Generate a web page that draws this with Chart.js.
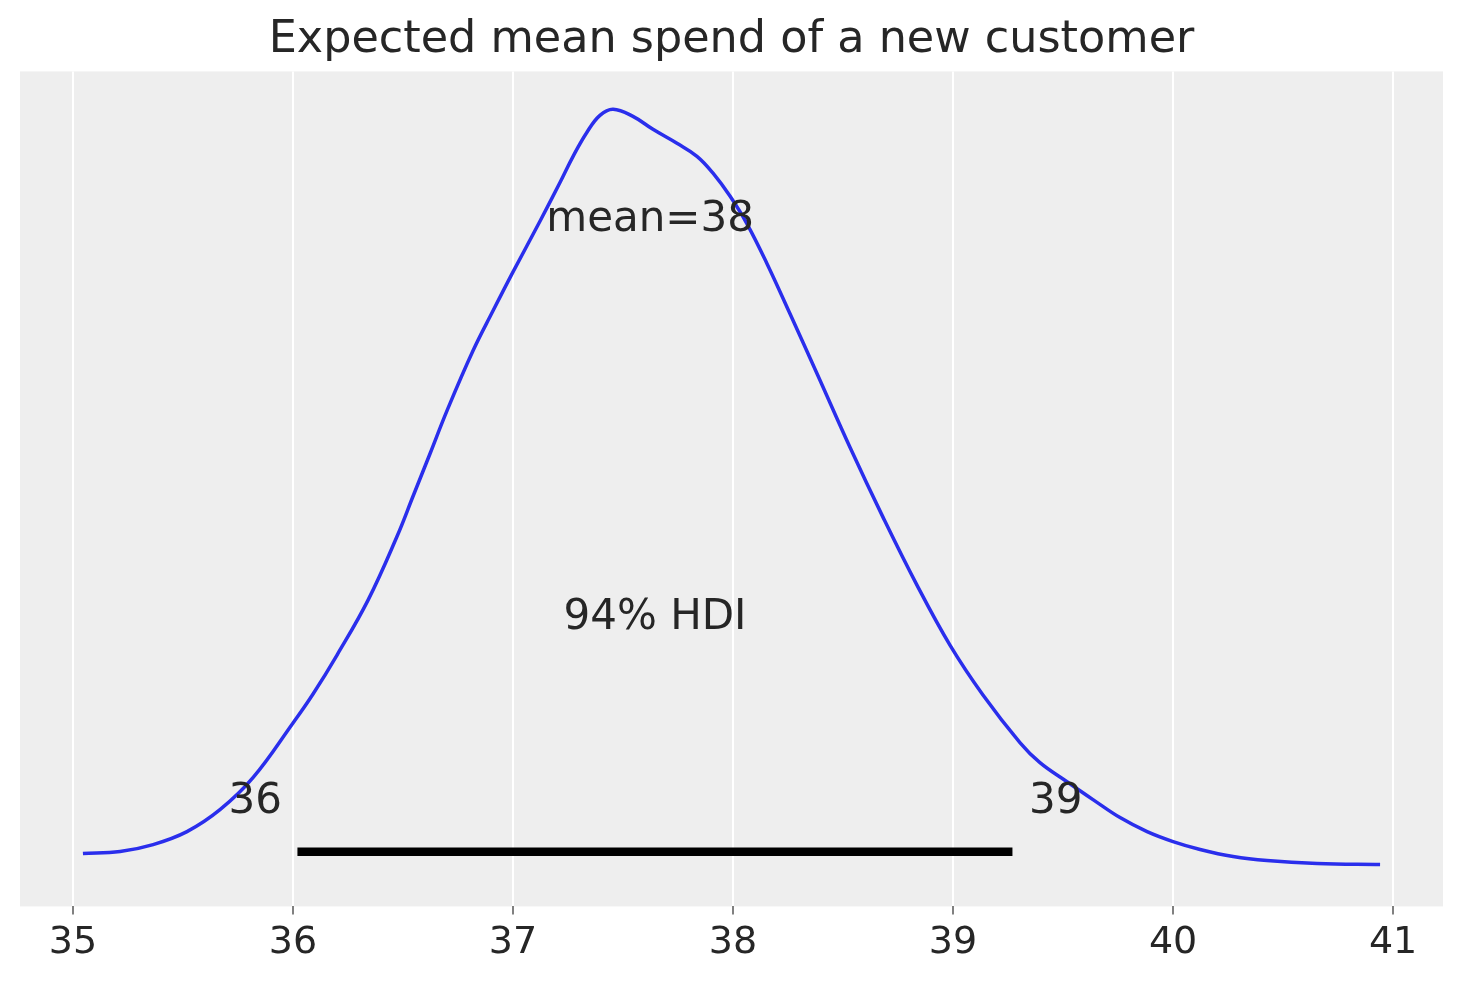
<!DOCTYPE html>
<html>
<head>
<meta charset="utf-8">
<script src="https://cdn.jsdelivr.net/npm/chart.js@4"></script>
<style>
  html, body { margin: 0; padding: 0; background: #ffffff; }
  canvas { display: block; }
</style>
</head>
<body>
<canvas id="grafico" width="1463" height="983"></canvas>
<script>
// Valores
const kdeX = [35.045, 35.214, 35.364, 35.518, 35.668, 35.818, 36.0, 36.091, 36.2,
    36.341, 36.473, 36.545, 36.623, 36.7, 36.818, 36.909, 37.0, 37.123, 37.214,
    37.273, 37.336, 37.395, 37.455, 37.545, 37.636, 37.745, 37.836, 37.909, 37.986,
    38.064, 38.155, 38.259, 38.382, 38.532, 38.682, 38.836, 38.986, 39.136,
    39.305, 39.395, 39.518, 39.636, 39.759, 39.882, 40.0, 40.123, 40.273, 40.427,
    40.655, 40.941];
const kdeY = [0.0083, 0.0095, 0.0136, 0.0213, 0.0343, 0.0533, 0.0858, 0.1030, 0.1261,
    0.1587, 0.1966, 0.2202, 0.2457, 0.2712, 0.3067, 0.3304, 0.3535, 0.3837, 0.4067,
    0.4221, 0.4364, 0.4464, 0.4500, 0.4458, 0.4381, 0.4298, 0.4221, 0.4121, 0.3985,
    0.3819, 0.3582, 0.3286, 0.2931, 0.2493, 0.2078, 0.1676, 0.1320, 0.1024,
    0.0740, 0.0622, 0.0509, 0.0403, 0.0296, 0.0213, 0.0154, 0.0107, 0.0065, 0.0041,
    0.0024, 0.0018];

const hdiX = [36.02, 39.27];
const hdiY = [0.0094, 0.0094];

const xTicks = [35, 36, 37, 38, 39, 40, 41];

const titulo = 'Expected mean spend of a new customer';
const textosTexto = ['mean=38', '94% HDI', '36', '39'];
const textosX = [37.623, 37.645, 35.95, 39.345];
const textosY = [0.378, 0.1418, 0.0326, 0.0326];
const textosAlinhamento = ['center', 'center', 'right', 'left'];

const FONTE = "'DejaVu Sans', sans-serif";
const COR_TEXTO = '#262626';

// Fundo cinza da área do gráfico + textos de anotação
const pluginFundo = {
    id: 'fundo',
    beforeDraw(chart) {
        const { ctx, chartArea } = chart;
        ctx.save();
        ctx.fillStyle = '#eeeeee';
        ctx.fillRect(chartArea.left, chartArea.top,
            chartArea.right - chartArea.left, chartArea.bottom - chartArea.top);
        ctx.restore();
    },
    afterDatasetsDraw(chart) {
        const { ctx, scales } = chart;
        ctx.save();
        ctx.font = '42px ' + FONTE;
        ctx.fillStyle = COR_TEXTO;
        ctx.textBaseline = 'alphabetic';
        textosTexto.forEach((t, i) => {
            ctx.textAlign = textosAlinhamento[i];
            ctx.fillText(t, scales.x.getPixelForValue(textosX[i]), scales.y.getPixelForValue(textosY[i]));
        });
        ctx.restore();
    }
};

new Chart(document.getElementById('grafico').getContext('2d'), {
    type: 'line',
    data: {
        datasets: [{
            data: kdeX.map((x, i) => ({ x: x, y: kdeY[i] })),
            borderColor: '#2a2eec',
            borderWidth: 3.5,
            pointRadius: 0,
            tension: 0.4,
            fill: false
        }, {
            data: hdiX.map((x, i) => ({ x: x, y: hdiY[i] })),
            borderColor: '#000000',
            borderWidth: 8.5,
            borderCapStyle: 'butt',
            pointRadius: 0,
            tension: 0,
            fill: false
        }]
    },
    options: {
        responsive: false,
        animation: false,
        devicePixelRatio: 1,
        layout: {
            padding: { left: 20, right: 20, bottom: 11 }
        },
        plugins: {
            legend: { display: false },
            tooltip: { enabled: false },
            title: {
                display: true,
                text: titulo,
                color: COR_TEXTO,
                font: { family: FONTE, size: 44.5, weight: 'normal' },
                padding: { top: 14, bottom: 4 }
            }
        },
        scales: {
            x: {
                type: 'linear',
                min: 34.759,
                max: 41.227,
                afterBuildTicks: scale => {
                    scale.ticks = xTicks.map(v => ({ value: v }));
                },
                ticks: {
                    color: COR_TEXTO,
                    font: { family: FONTE, size: 38 },
                    padding: 6,
                    maxRotation: 0,
                    callback: v => String(v)
                },
                grid: {
                    color: '#ffffff',
                    lineWidth: 2,
                    drawTicks: true,
                    tickLength: 8,
                    tickColor: '#808080',
                    tickWidth: 2
                },
                border: { display: false }
            },
            y: {
                display: false,
                min: -0.0231,
                max: 0.4725
            }
        }
    },
    plugins: [pluginFundo]
});
</script>
</body>
</html>
